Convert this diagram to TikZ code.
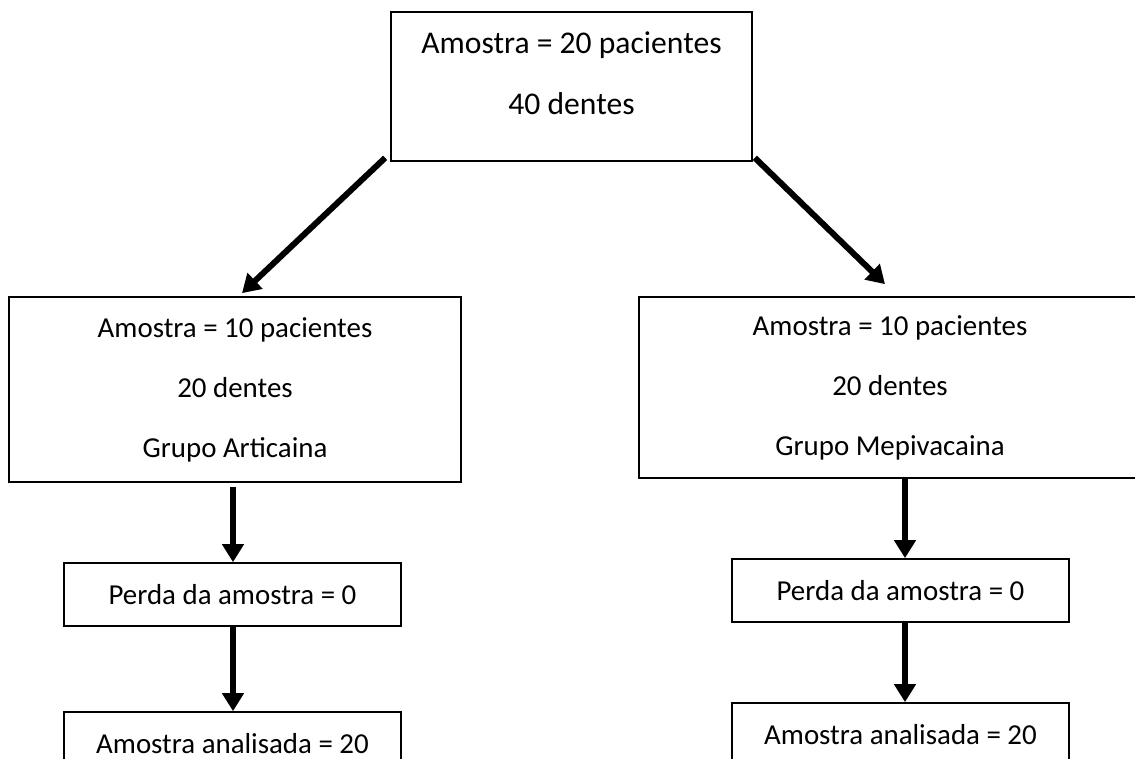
\documentclass[tikz,border=0pt]{standalone}
\usepackage{fontspec}
\setmainfont{Carlito}
\usetikzlibrary{arrows.meta}
\tikzset{
  box/.style={draw=black, line width=1.7pt, fill=white, inner sep=0pt, align=center,
    font=\fontsize{28.9pt}{60pt}\selectfont},
  arr/.style={line width=6pt, -{Triangle[length=18pt,width=21pt]}}
}
\begin{document}
\begin{tikzpicture}[x=1pt,y=-1pt]
\useasboundingbox (0,0) rectangle (1135,759);
% top box
\node[box, minimum width=361pt, minimum height=149pt] (top) at (571.5,86.5) {};
\node[anchor=base, font=\fontsize{31.6pt}{38pt}\selectfont] (topa) at (571.5,54) {Amostra = 20 pacientes};
\node[anchor=base, font=\fontsize{31.6pt}{38pt}\selectfont] (topb) at (571.5,115) {40 dentes};
% group boxes
\node[box, minimum width=452pt, minimum height=185pt] (art) at (235,389.5)
  {Amostra = 10 pacientes\\20 dentes\\Grupo Articaina};
\node[box, minimum width=502pt, minimum height=181pt] (mep) at (890,387.5)
  {Amostra = 10 pacientes\\20 dentes\\Grupo Mepivacaina};
% loss boxes
\node[box, minimum width=337pt, minimum height=63pt] (perdaL) at (232.5,594.5) {Perda da amostra = 0};
\node[box, minimum width=337pt, minimum height=63pt] (perdaR) at (900.5,590.5) {Perda da amostra = 0};
% analysed boxes
\node[box, minimum width=337pt, minimum height=63pt] (analL) at (232.5,743.5) {Amostra analisada = 20};
\node[box, minimum width=337pt, minimum height=63pt] (analR) at (900.5,734.5) {Amostra analisada = 20};
% arrows
\draw[arr] ([shift={(-5,-4)}]top.south west) -- ([shift={(7,-3)}]art.north);
\draw[arr] ([shift={(2,-4)}]top.south east) -- ([shift={(-5,-12)}]mep.north);
\draw[arr] ([shift={(-2,4)}]art.south) -- ([shift={(0.5,0)}]perdaL.north);
\draw[arr] ([shift={(0.5,0)}]perdaL.south) -- ([shift={(0.5,0)}]analL.north);
\draw[arr] ([shift={(15,0)}]mep.south) -- ([shift={(4.5,0)}]perdaR.north);
\draw[arr] ([shift={(4.5,0)}]perdaR.south) -- ([shift={(4.5,0)}]analR.north);
\end{tikzpicture}
\end{document}
